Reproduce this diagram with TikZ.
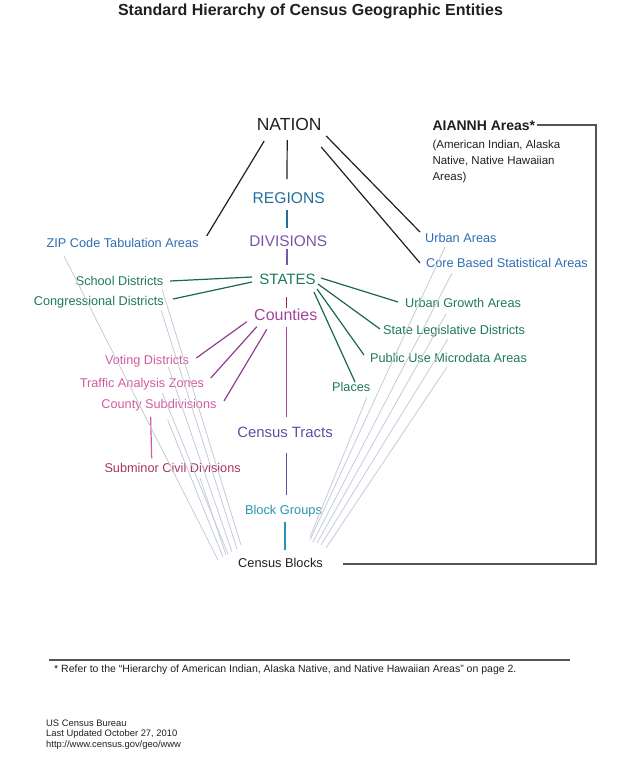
\documentclass[tikz,border=0pt]{standalone}
\usepackage{fontspec}
\setmainfont{Liberation Sans}
\usetikzlibrary{calc}
\usetikzlibrary{positioning}
\definecolor{ct-black}{HTML}{231F20}
\definecolor{ct-blue}{HTML}{2E6DB4}
\definecolor{ct-region}{HTML}{1F6E9C}
\definecolor{ct-division}{HTML}{7A55A6}
\definecolor{ct-green}{HTML}{1E7A57}
\definecolor{ct-county}{HTML}{A2449C}
\definecolor{ct-pink}{HTML}{D35A9E}
\definecolor{ct-subminor}{HTML}{A73560}
\definecolor{ct-tract}{HTML}{664C9E}
\definecolor{ct-group}{HTML}{2A93B4}
\definecolor{ct-grey}{HTML}{C3CAD9}
\definecolor{ct-frame}{HTML}{555555}
\definecolor{ct-crimson}{HTML}{9B2150}
\colorlet{statelink}{ct-green!85!black}
\colorlet{countylink}{ct-county!90!black}
\tikzset{
  entity/.style 2 args={
    font=\fontsize{#1}{#1}\selectfont,
    text=#2,
    inner sep=0pt},
}

\begin{document}
\begin{tikzpicture}[x=1pt, y=-1pt,
  heading/.style={font=\bfseries\fontsize{#1}{#1}\selectfont, text=ct-black, inner sep=0pt},
  link/.style={line width=1.2pt},
  blockline/.style={line width=0.8pt, ct-grey},
  frame/.style={line width=1.3pt, ct-frame}
]
\path[use as bounding box] (0,0) rectangle (621,760);

% Title
\node[heading=16, anchor=base] (title) at (310.5,16) {Standard Hierarchy of Census Geographic Entities};

% Main hierarchy
\node[entity={17.5}{ct-black}, anchor=base] (nation) at (289.2,130) {NATION};
\node[entity={15.6}{ct-region}, anchor=base] (regions) at (288.7,203) {REGIONS};
\node[entity={15.4}{ct-division}, anchor=base] (divisions) at (288.3,246.7) {DIVISIONS};
\node[entity={15}{ct-green}, anchor=base] (states) at (287.5,284) {STATES};
\node[entity={16}{ct-county}, anchor=base] (counties) at (285.8,320.7) {Counties};
\node[entity={14.9}{ct-tract}, anchor=base] (tracts) at (285,437.3) {Census Tracts};
\node[entity={12.8}{ct-group}, anchor=base] (groups) at (283.5,514) {Block Groups};
\node[entity={12.8}{ct-black}, anchor=base] (blocks) at (280.5,567) {Census Blocks};

% Nation level
\node[entity={12.7}{ct-blue}, anchor=base west] (zcta) at (46.5,247) {ZIP Code Tabulation Areas};
\node[entity={12.7}{ct-blue}, anchor=base west] (urban) at (425,242) {Urban Areas};
\node[entity={12.7}{ct-blue}, anchor=base west] (cbsa) at (426,267) {Core Based Statistical Areas};

% State level
\node[entity={12.7}{ct-green}, anchor=base east] (school) at (163.5,285) {School Districts};
\node[entity={12.7}{ct-green}, anchor=base east] (congress) at (164,305) {Congressional Districts};
\node[entity={12.7}{ct-green}, anchor=base west] (uga) at (405,307) {Urban Growth Areas};
\node[entity={12.7}{ct-green}, anchor=base west] (sld) at (383,334) {State Legislative Districts};
\node[entity={12.7}{ct-green}, anchor=base west] (puma) at (370,362) {Public Use Microdata Areas};
\node[entity={12.7}{ct-green}, anchor=base west] (places) at (332,391) {Places};

% County level
\node[entity={12.7}{ct-pink}, anchor=base east] (vtd) at (189.3,364) {Voting Districts};
\node[entity={12.7}{ct-pink}, anchor=base east] (taz) at (204.3,387) {Traffic Analysis Zones};
\node[entity={12.7}{ct-pink}, anchor=base east] (cousub) at (216.7,408) {County Subdivisions};
\node[entity={12.7}{ct-subminor}, anchor=base west] (subminor) at (104.3,472.3) {Subminor Civil Divisions};

% AIANNH
\node[heading=14, anchor=base west] (aiannh) at (432.3,130) {AIANNH Areas*};
\node[entity={11.5}{ct-black}, font=\fontsize{11.5}{16.2}\selectfont, align=left, anchor=base west] (aiannhnote) at (432.3,180.6) {(American Indian, Alaska\\Native, Native Hawaiian\\Areas)};
\coordinate (corner) at (596,125);
\draw[frame] ($(aiannh.base east)+(2,-5)$) -- (corner) |- ($(blocks.base)+(62,-3)$);

% Spine
\draw[link, ct-black] ($(nation.base)+(-2,10)$) -- ($(regions.base)+(-1.7,-24)$);
\draw[link, ct-region] ($(regions.base)+(-1.7,7)$) -- ($(divisions.base)+(-1.3,-18.7)$);
\draw[link, ct-division] ($(divisions.base)+(-1.3,2.5)$) -- ($(states.base)+(-0.5,-19)$);
\draw[link, ct-crimson] ($(states.base)+(-0.8,12.7)$) -- ($(counties.base)+(0.9,-12.4)$);
\draw[link, ct-county] ($(counties.base)+(0.9,6)$) -- ($(tracts.base)+(1.7,-20.6)$);
\draw[link, ct-tract] ($(tracts.base)+(1.7,16)$) -- ($(groups.base)+(3.2,-19)$);
\draw[link, ct-group] ($(groups.base)+(1.5,7.7)$) -- ($(blocks.base)+(4.5,-17)$);

% Nation edges
\draw[link, ct-black] ($(nation.base)+(-25,11)$) -- ($(zcta.base east)+(8,-11)$);
\draw[link, ct-black] ($(nation.base)+(37,6)$) -- ($(urban.base west)+(-5,-10)$);
\draw[link, ct-black] ($(nation.base)+(32,17)$) -- ($(cbsa.base west)+(-6,-4)$);

% State edges
\draw[link, statelink] ($(states.base)+(-35.5,-7)$) -- ($(school.base east)+(6.5,-4)$);
\draw[link, statelink] ($(states.base)+(-35.5,-2)$) -- ($(congress.base east)+(9,-6)$);
\draw[link, statelink] ($(states.base)+(33.5,-6)$) -- ($(uga.base west)+(-7,-5)$);
\draw[link, statelink] ($(states.base)+(30.5,0)$) -- ($(sld.base west)+(-3,-5)$);
\draw[link, statelink] ($(states.base)+(29.5,5)$) -- ($(puma.base west)+(-6,-7)$);
\draw[link, statelink] ($(states.base)+(26.5,8)$) -- ($(places.base west)+(23,-9)$);

% County edges
\draw[link, countylink] ($(counties.base)+(-39,1)$) -- ($(vtd.base east)+(7,-6)$);
\draw[link, countylink] ($(counties.base)+(-29,6)$) -- ($(taz.base east)+(6.5,-9)$);
\draw[link, countylink] ($(counties.base)+(-19,8.6)$) -- ($(cousub.base east)+(7.3,-7)$);
\draw[link, ct-pink] ($(cousub.base west)+(49.4,8.7)$) -- ($(subminor.base west)+(47.4,-14)$);

% Block edges, left
\draw[blockline] ($(zcta.base west)+(17.5,9)$) -- ($(blocks.base)+(-62.5,-7)$);
\draw[blockline] ($(school.base east)+(-1.5,4)$) -- ($(blocks.base)+(-39.5,-22)$);
\draw[blockline] ($(congress.base east)+(-3,5)$) -- ($(blocks.base)+(-43.5,-18)$);
\draw[blockline] ($(vtd.base east)+(-21,3)$) -- ($(blocks.base)+(-48.5,-15)$);
\draw[blockline] ($(taz.base east)+(-42,6)$) -- ($(blocks.base)+(-52.5,-13)$);
\draw[blockline] ($(cousub.base east)+(-49,12)$) -- ($(blocks.base)+(-57.5,-10)$);
\draw[blockline] ($(subminor.base west)+(95.7,5.7)$) -- ($(blocks.base)+(-54.5,-12)$);

% Block edges, right
\draw[blockline] ($(urban.base west)+(20,5)$) -- ($(blocks.base)+(29.5,-27)$);
\draw[blockline] ($(cbsa.base west)+(26,6)$) -- ($(blocks.base)+(32.5,-25)$);
\draw[blockline] ($(uga.base west)+(41,7)$) -- ($(blocks.base)+(36.5,-24)$);
\draw[blockline] ($(sld.base west)+(65,5)$) -- ($(blocks.base)+(40.5,-22)$);
\draw[blockline] ($(puma.base west)+(77,5)$) -- ($(blocks.base)+(45.5,-19)$);
\draw[blockline] ($(places.base west)+(35,6)$) -- ($(blocks.base)+(29.5,-30)$);

% Footnote
\draw[line width=1.6pt, ct-frame] (49,660) -- (570,660);
\node[entity={10.5}{ct-black}, anchor=base west] (footnote) at (54,672) {* Refer to the “Hierarchy of American Indian, Alaska Native, and Native Hawaiian Areas” on page 2.};
\node[entity={9.4}{ct-black}, font=\fontsize{9.4}{10.3}\selectfont, align=left, anchor=base west] (credit) at (46,747) {US Census Bureau\\Last Updated October 27, 2010\\http://www.census.gov/geo/www};
\end{tikzpicture}
\end{document}
